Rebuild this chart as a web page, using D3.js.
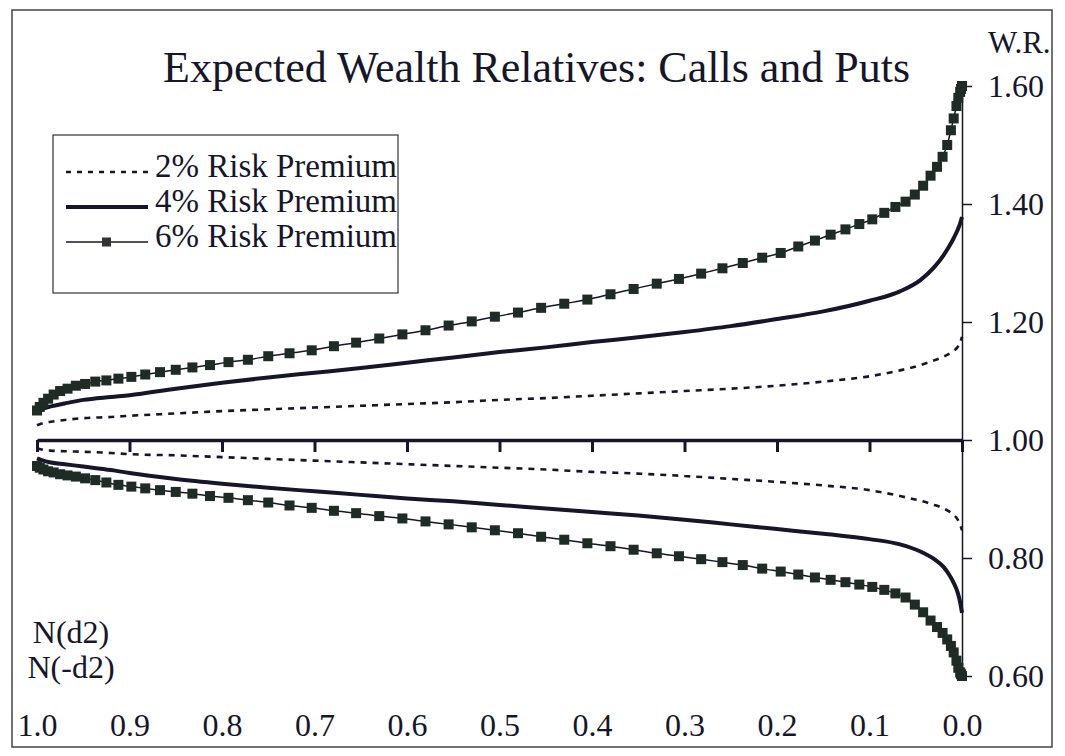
<!DOCTYPE html>
<html>
<head>
<meta charset="utf-8">
<script src="https://cdn.jsdelivr.net/npm/d3@7"></script>
<style>
  html, body { margin: 0; padding: 0; background: #ffffff; }
  svg { display: block; }
  text { font-family: "Liberation Serif", "Times New Roman", serif; fill: #16162a; }
</style>
</head>
<body>
<svg id="chart" width="1065" height="756"></svg>
<script>
// ---------------- DATA ----------------
const chartTitle = "Expected Wealth Relatives: Calls and Puts";
const seriesNames = ["2% Risk Premium", "4% Risk Premium", "6% Risk Premium"];
const xTickValues = [1.0, 0.9, 0.8, 0.7, 0.6, 0.5, 0.4, 0.3, 0.2, 0.1, 0.0];
const xTickLabels = ["1.0", "0.9", "0.8", "0.7", "0.6", "0.5", "0.4", "0.3", "0.2", "0.1", "0.0"];
const yTickValues = [0.60, 0.80, 1.00, 1.20, 1.40, 1.60];
const yTickLabels = ["0.60", "0.80", "1.00", "1.20", "1.40", "1.60"];
const yAxisTitle = "W.R.";
const xAxisTitles = ["N(d2)", "N(-d2)"];

// N(d2) / N(-d2) grid for the 2% and 4% lines
const lineN = [1.0, 0.995, 0.985, 0.97, 0.95, 0.92, 0.9, 0.85, 0.8, 0.75, 0.7, 0.65, 0.6, 0.55, 0.5, 0.45,
  0.4, 0.35, 0.3, 0.25, 0.2, 0.15, 0.1, 0.067, 0.045, 0.03, 0.02, 0.014, 0.009, 0.005, 0.002, 0.0];
const call2 = [1.025, 1.028, 1.031, 1.034, 1.037, 1.039, 1.041, 1.045, 1.049, 1.052, 1.055, 1.058, 1.061, 1.064, 1.068, 1.071,
  1.075, 1.079, 1.083, 1.087, 1.092, 1.099, 1.108, 1.118, 1.127, 1.135, 1.141, 1.146, 1.151, 1.157, 1.165, 1.175];
const put2 = [0.986, 0.984, 0.982, 0.981, 0.980, 0.978, 0.976, 0.974, 0.971, 0.968, 0.965, 0.962, 0.959, 0.956, 0.953, 0.950,
  0.946, 0.943, 0.939, 0.934, 0.929, 0.923, 0.915, 0.905, 0.897, 0.890, 0.884, 0.879, 0.873, 0.866, 0.856, 0.847];
const call4 = [1.047, 1.052, 1.057, 1.062, 1.068, 1.073, 1.076, 1.087, 1.097, 1.106, 1.114, 1.122, 1.131, 1.140, 1.149, 1.157,
  1.166, 1.174, 1.183, 1.193, 1.205, 1.218, 1.236, 1.252, 1.271, 1.293, 1.313, 1.328, 1.342, 1.355, 1.367, 1.378];
const put4 = [0.969, 0.966, 0.962, 0.959, 0.955, 0.949, 0.944, 0.934, 0.926, 0.919, 0.913, 0.907, 0.901, 0.896, 0.890, 0.884,
  0.878, 0.872, 0.865, 0.857, 0.849, 0.841, 0.832, 0.823, 0.811, 0.798, 0.785, 0.772, 0.758, 0.743, 0.725, 0.707];

// N grid for the 6% series (one marker per point)
const markN = [1.000, 0.997, 0.993, 0.988, 0.982, 0.975, 0.967, 0.958, 0.948, 0.937, 0.925, 0.912, 0.898, 0.883, 0.867, 0.850,
  0.832, 0.813, 0.793, 0.772, 0.750, 0.727, 0.703, 0.679, 0.655, 0.630, 0.605, 0.580, 0.555, 0.530, 0.505, 0.480,
  0.455, 0.430, 0.405, 0.380, 0.355, 0.330, 0.306, 0.282, 0.259, 0.237, 0.216, 0.196, 0.177, 0.159, 0.142, 0.126,
  0.111, 0.097, 0.084, 0.072, 0.061, 0.051, 0.042, 0.034, 0.027, 0.021, 0.016, 0.012, 0.009, 0.006, 0.004, 0.002, 0.001, 0.000];
const call6 = [1.050, 1.056, 1.063, 1.070, 1.077, 1.083, 1.087, 1.092, 1.095, 1.099, 1.101, 1.104, 1.107, 1.111, 1.115, 1.119,
  1.123, 1.127, 1.132, 1.136, 1.142, 1.147, 1.152, 1.159, 1.165, 1.172, 1.179, 1.186, 1.194, 1.201, 1.209, 1.216,
  1.224, 1.231, 1.238, 1.247, 1.256, 1.265, 1.273, 1.282, 1.291, 1.300, 1.309, 1.317, 1.328, 1.338, 1.348, 1.357,
  1.366, 1.374, 1.385, 1.395, 1.404, 1.416, 1.431, 1.448, 1.463, 1.480, 1.500, 1.525, 1.545, 1.566, 1.580, 1.590, 1.595, 1.600];
const put6 = [0.956, 0.953, 0.950, 0.947, 0.945, 0.942, 0.940, 0.938, 0.935, 0.932, 0.928, 0.924, 0.921, 0.918, 0.915, 0.912,
  0.909, 0.905, 0.902, 0.898, 0.894, 0.889, 0.885, 0.880, 0.876, 0.871, 0.867, 0.862, 0.857, 0.852, 0.847, 0.842,
  0.836, 0.831, 0.825, 0.820, 0.814, 0.808, 0.803, 0.798, 0.793, 0.788, 0.782, 0.777, 0.772, 0.767, 0.763, 0.759,
  0.755, 0.751, 0.746, 0.740, 0.733, 0.721, 0.708, 0.694, 0.683, 0.673, 0.662, 0.651, 0.640, 0.626, 0.614, 0.606, 0.603, 0.600];

// ---------------- DRAWING ----------------
const ink = "#16162a";
const svg = d3.select("#chart");

svg.append("rect").attr("x", 12).attr("y", 10).attr("width", 1040).attr("height", 737)
  .attr("fill", "none").attr("stroke", "#444").attr("stroke-width", 1.5);

const x = d3.scaleLinear().domain([1, 0]).range([37, 962]);
const y = d3.scaleLinear().domain([0.6, 1.6]).range([676, 86]);

// Right value axis
const yAxis = d3.axisRight(y).tickValues(yTickValues).tickSize(10).tickSizeOuter(0).tickPadding(16)
  .tickFormat((d, i) => yTickLabels[i]);
const gy = svg.append("g").attr("transform", `translate(${x(0)},0)`).call(yAxis);
gy.select(".domain").attr("stroke", ink).attr("stroke-width", 1.5);
gy.selectAll(".tick line").attr("stroke", ink).attr("stroke-width", 1.5);
gy.selectAll(".tick text").attr("font-family", "Liberation Serif, Times New Roman, serif")
  .attr("font-size", 32).attr("fill", ink);

// Horizontal N axis along W.R. = 1.00
const xAxis = d3.axisBottom(x).tickValues(xTickValues).tickSize(12).tickSizeOuter(0).tickFormat("");
const gx = svg.append("g").attr("transform", `translate(0,${y(1.0)})`).call(xAxis);
gx.select(".domain").attr("stroke", ink).attr("stroke-width", 3.5);
gx.selectAll(".tick line").attr("stroke", ink).attr("stroke-width", 3);

// Bottom tick labels via a label-only axis
const xLabelAxis = d3.axisBottom(x).tickValues(xTickValues).tickSize(0).tickPadding(0)
  .tickFormat((d, i) => xTickLabels[i]);
const gxl = svg.append("g").attr("transform", `translate(0,713)`).call(xLabelAxis);
gxl.select(".domain").remove();
gxl.selectAll(".tick text").attr("font-family", "Liberation Serif, Times New Roman, serif")
  .attr("font-size", 32).attr("fill", ink).attr("dy", "0.71em");

// Lines
const toPts = (ns, vs) => ns.map((n, i) => [n, vs[i]]);
const line = d3.line().x(d => x(d[0])).y(d => y(d[1])).curve(d3.curveMonotoneX);

const plot = svg.append("g");
[call2, put2].forEach(vals => {
  plot.append("path").attr("d", line(toPts(lineN, vals))).attr("fill", "none")
    .attr("stroke", ink).attr("stroke-width", 2.6).attr("stroke-dasharray", "6,6");
});
[call4, put4].forEach(vals => {
  plot.append("path").attr("d", line(toPts(lineN, vals))).attr("fill", "none")
    .attr("stroke", ink).attr("stroke-width", 4).attr("stroke-linejoin", "round");
});
[call6, put6].forEach(vals => {
  const pts = toPts(markN, vals);
  plot.append("path").attr("d", line(pts)).attr("fill", "none")
    .attr("stroke", ink).attr("stroke-width", 1.5);
  plot.selectAll(null).data(pts).enter().append("rect")
    .attr("x", d => x(d[0]) - 5).attr("y", d => y(d[1]) - 5)
    .attr("width", 10).attr("height", 10).attr("fill", "#1f2b25");
});

// Title and axis titles
svg.append("text").attr("x", 163).attr("y", 82).attr("font-size", 44).text(chartTitle);
svg.append("text").attr("x", 988).attr("y", 53).attr("font-size", 31).text(yAxisTitle);
svg.append("text").attr("x", 71).attr("y", 643).attr("text-anchor", "middle").attr("font-size", 32).text(xAxisTitles[0]);
svg.append("text").attr("x", 71).attr("y", 678).attr("text-anchor", "middle").attr("font-size", 32).text(xAxisTitles[1]);

// Legend
const lg = svg.append("g");
lg.append("rect").attr("x", 53).attr("y", 135).attr("width", 345).attr("height", 158)
  .attr("fill", "#fff").attr("stroke", "#333").attr("stroke-width", 1.2);
const legendRows = [
  { name: seriesNames[0], dash: "5,6", w: 2.4, marker: false },
  { name: seriesNames[1], dash: null, w: 4, marker: false },
  { name: seriesNames[2], dash: null, w: 1.5, marker: true }
];
legendRows.forEach((r, i) => {
  const by = 177 + i * 35;
  const ly = by - 5;
  const p = lg.append("line").attr("x1", 66).attr("x2", 148).attr("y1", ly).attr("y2", ly)
    .attr("stroke", ink).attr("stroke-width", r.w);
  if (r.dash) p.attr("stroke-dasharray", r.dash);
  if (r.marker) lg.append("rect").attr("x", 102).attr("y", ly - 4.5).attr("width", 9).attr("height", 9).attr("fill", "#333");
  lg.append("text").attr("x", 155).attr("y", by).attr("font-size", 33).text(r.name);
});
</script>
</body>
</html>
